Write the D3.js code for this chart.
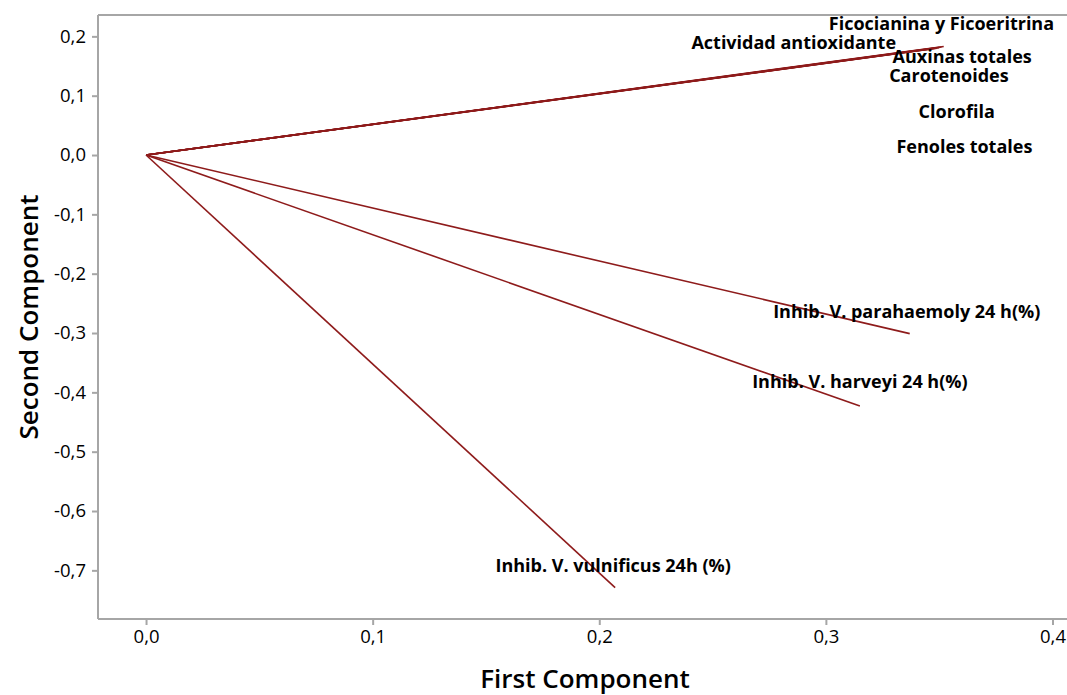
<!DOCTYPE html>
<html>
<head>
<meta charset="utf-8">
<script src="https://cdn.jsdelivr.net/npm/d3@7"></script>
<style>
  html, body { margin: 0; padding: 0; background: #fff; }
  svg { display: block; font-family: "Open Sans", "Noto Sans", sans-serif; }
  .tick-label { font-family: "Open Sans", "Noto Sans", sans-serif; font-size: 18.5px; fill: #000; }
  .axis-title { font-size: 26px; font-weight: 600; fill: #000; }
  .var-label { font-size: 18px; font-weight: 700; fill: #000; }
</style>
</head>
<body>
<svg id="chart" width="1067" height="695"></svg>
<script>
// Loading plot: first vs second principal component

const variables = [
  'Actividad antioxidante',
  'Ficocianina y Ficoeritrina',
  'Auxinas totales',
  'Carotenoides',
  'Clorofila',
  'Fenoles totales',
  'Inhib. V. parahaemoly 24 h(%)',
  'Inhib. V. harveyi 24 h(%)',
  'Inhib. V. vulnificus 24h (%)'
];
const pc1 = [0.352, 0.351, 0.350, 0.349, 0.348, 0.347, 0.337, 0.315, 0.207];
const pc2 = [0.183, 0.182, 0.181, 0.180, 0.180, 0.179, -0.301, -0.423, -0.729];

// label offsets in px from each vector's tip (Minitab spreads the crowded ones)
const labelDx = [-150, 0, 23, 12, 22, 32, -3, 0, -2];
const labelDy = [3, -17, 15, 34, 70, 104, -16, -18, -16];

const xTicks = [0, 0.1, 0.2, 0.3, 0.4];
const yTicks = [0.2, 0.1, 0, -0.1, -0.2, -0.3, -0.4, -0.5, -0.6, -0.7];

const plot = { left: 98, top: 15, right: 1067, bottom: 619 };
const gridGrey = '#a6a6a6';
const lineRed = '#8e1b1b';

const svg = d3.select('#chart');

const x = d3.scaleLinear().domain([-0.0212, 0.4064]).range([plot.left, plot.right]);
const y = d3.scaleLinear().domain([-0.782, 0.236]).range([plot.bottom, plot.top]);

const loc = d3.formatLocale({ decimal: ',', thousands: '.', grouping: [3], currency: ['', ''], minus: '-' });
const fmt = loc.format('.1f');

// frame: left, top and bottom (the right side runs off the image)
const frame = svg.append('g').attr('stroke', gridGrey).attr('stroke-width', 2).attr('fill', 'none');
frame.append('line').attr('x1', plot.left).attr('x2', plot.left).attr('y1', plot.top).attr('y2', plot.bottom);
frame.append('line').attr('x1', plot.left).attr('x2', plot.right).attr('y1', plot.top).attr('y2', plot.top);
frame.append('line').attr('x1', plot.left).attr('x2', plot.right).attr('y1', plot.bottom).attr('y2', plot.bottom);

// x axis
const xAxis = svg.append('g')
  .attr('transform', `translate(0,${plot.bottom})`)
  .call(d3.axisBottom(x).tickValues(xTicks).tickFormat(fmt).tickSize(6).tickPadding(5));
xAxis.select('.domain').remove();
xAxis.selectAll('.tick line').attr('stroke', gridGrey).attr('stroke-width', 2);
xAxis.selectAll('.tick text').attr('class', 'tick-label').attr('fill', null);

// y axis
const yAxis = svg.append('g')
  .attr('transform', `translate(${plot.left},0)`)
  .call(d3.axisLeft(y).tickValues(yTicks).tickFormat(fmt).tickSize(6).tickPadding(6));
yAxis.select('.domain').remove();
yAxis.selectAll('.tick line').attr('stroke', gridGrey).attr('stroke-width', 2);
yAxis.selectAll('.tick text').attr('class', 'tick-label').attr('fill', null);

// axis titles
svg.append('text').attr('class', 'axis-title')
  .attr('x', 585).attr('y', 688).attr('text-anchor', 'middle')
  .text('First Component');
svg.append('text').attr('class', 'axis-title')
  .attr('transform', `translate(38,317) rotate(-90)`).attr('text-anchor', 'middle')
  .text('Second Component');

// loading vectors
const rows = variables.map((name, i) => ({ name, pc1: pc1[i], pc2: pc2[i], dx: labelDx[i], dy: labelDy[i] }));

svg.append('g').selectAll('line')
  .data(rows)
  .join('line')
  .attr('x1', x(0)).attr('y1', y(0))
  .attr('x2', d => x(d.pc1)).attr('y2', d => y(d.pc2))
  .attr('stroke', lineRed)
  .attr('stroke-width', 1.6);

svg.append('g').selectAll('text')
  .data(rows)
  .join('text')
  .attr('class', 'var-label')
  .attr('text-anchor', 'middle')
  .attr('x', d => x(d.pc1) + d.dx)
  .attr('y', d => y(d.pc2) + d.dy)
  .text(d => d.name);
</script>
</body>
</html>
